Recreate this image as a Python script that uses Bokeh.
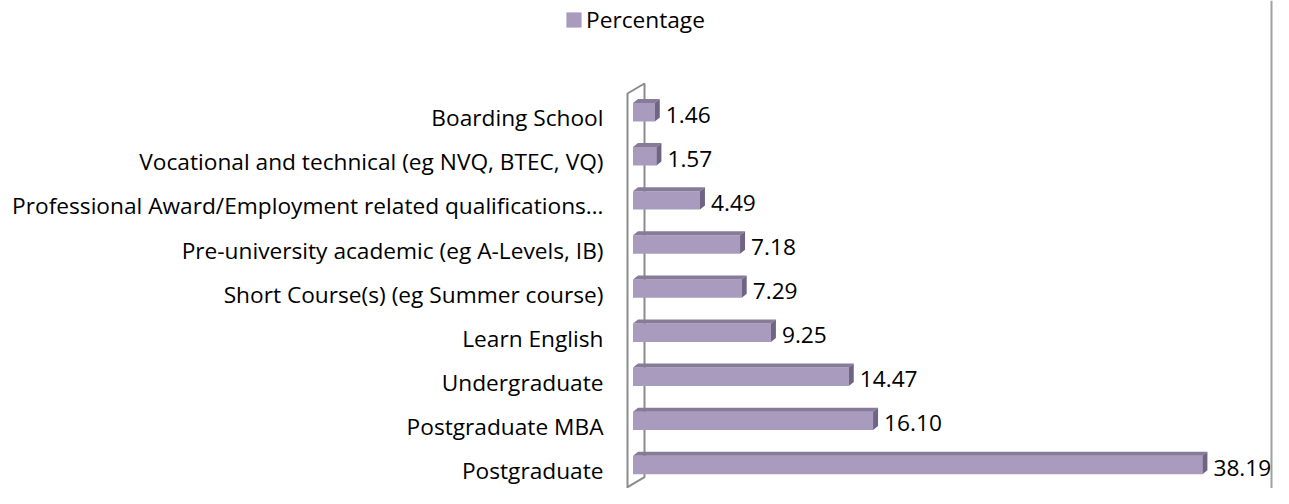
from bokeh.plotting import figure
from bokeh.models import Span, Legend, LegendItem, ColumnDataSource
from bokeh.core.properties import value
from bokeh.embed import file_html
from bokeh.resources import INLINE

# ---- data (bottom to top) ----
categories = [
    "Postgraduate",
    "Postgraduate MBA",
    "Undergraduate",
    "Learn English",
    "Short Course(s) (eg Summer course)",
    "Pre-university academic (eg A-Levels, IB)",
    "Professional Award/Employment related qualifications\u2026",
    "Vocational and technical (eg NVQ, BTEC, VQ)",
    "Boarding School",
]
percentages = [38.19, 16.10, 14.47, 9.25, 7.29, 7.18, 4.49, 1.57, 1.46]
series_name = "Percentage"

# ---- layout constants (screen pixels in figure coords) ----
W, H = 1273, 488
ZERO_X = 632.5          # pixel of value 0
PXU = 14.91             # pixels per percentage unit
ROW0_Y = 470            # pixel of first category label centre
PCY = 44.1              # pixels per category

FONT = "Open Sans"
FSIZE = "22.7px"
FRONT = "#A99BBD"
TOP = "#877B9A"
SIDE = "#6F6483"
WALL = "#8C8C8C"


def fx(px):
    return (px - ZERO_X) / PXU


def fy(py):
    return (ROW0_Y - py) / PCY


x_start, x_end = fx(0), fx(W)
y_start, y_end = fy(H), fy(0)

p = figure(width=W, height=H, x_range=(x_start, x_end), y_range=(y_start, y_end),
           output_backend="svg", toolbar_location=None,
           x_axis_location=None, y_axis_location=None,
           min_border=0)
p.outline_line_color = None
p.grid.visible = False
p.background_fill_color = "white"
p.border_fill_color = "white"

# 3D geometry
bar_shift = 5.5 / PCY
hh = 9.2 / PCY
dx = 5 / PXU
dy = 4 / PCY

idx = list(range(len(categories)))
yb = [i + bar_shift for i in idx]
bottom_bar_px = ROW0_Y - 5.5 + 9.2

# side wall (behind bars)
p.line(x=[fx(627), fx(627), fx(644), fx(644), fx(627)],
       y=[fy(H + 5), fy(93), fy(83), fy(bottom_bar_px + 3), fy(bottom_bar_px + 13)],
       line_color=WALL, line_width=2)

src = ColumnDataSource(dict(
    y=yb, ycat=idx, right=percentages, cat=categories,
    label=[f"{v:.2f}" for v in percentages],
    lx=[v + dx for v in percentages],
))

bars = p.hbar(y="y", left=0, right="right", height=2 * hh, source=src,
              fill_color=FRONT, line_color=None)

top_xs = [[0, v, v + dx, dx] for v in percentages]
top_ys = [[y + hh, y + hh, y + hh + dy, y + hh + dy] for y in yb]
p.patches(top_xs, top_ys, fill_color=TOP, line_color=None)

side_xs = [[v, v + dx, v + dx, v] for v in percentages]
side_ys = [[y - hh, y - hh + dy, y + hh + dy, y + hh] for y in yb]
p.patches(side_xs, side_ys, fill_color=SIDE, line_color=None)

# value labels
p.text(x="lx", y="y", text="label", source=src, x_offset=6, y_offset=2.5,
       text_align="left", text_baseline="middle",
       text_font=value(FONT), text_font_size=FSIZE, text_color="black")

# category labels
p.text(x=0, y="ycat", text="cat", source=src, x_offset=603 - ZERO_X,
       text_align="right", text_baseline="middle",
       text_font=value(FONT), text_font_size=FSIZE, text_color="black")

# right chart border
p.add_layout(Span(location=fx(W - 2), dimension="height",
                  line_color="#A0A0A0", line_width=2))

legend = Legend(items=[LegendItem(label=series_name, renderers=[bars])],
                location=(564, H - 34.5),
                padding=0, margin=0, spacing=0, label_standoff=3,
                glyph_width=19, glyph_height=19, label_height=15,
                border_line_color=None, background_fill_alpha=0,
                label_text_font=FONT, label_text_font_size=FSIZE,
                label_text_color="black")
p.add_layout(legend)

open("out.html", "w").write(file_html(p, INLINE))
